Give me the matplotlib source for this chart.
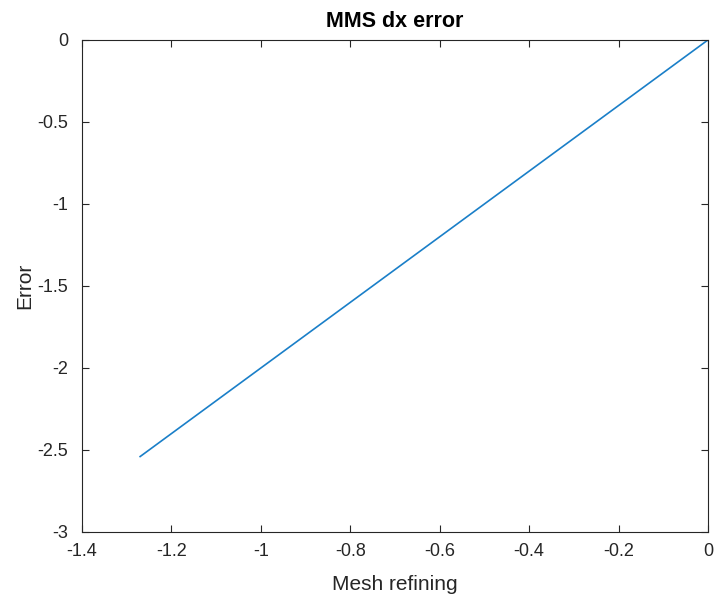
import matplotlib
matplotlib.use("Agg")
import matplotlib.pyplot as plt

# log of mesh refinement vs log of error
mesh_refining = [-1.27, 0.0]
error = [-2.54, 0.0]

x_ticks = [-1.4, -1.2, -1, -0.8, -0.6, -0.4, -0.2, 0]
x_tick_labels = ["-1.4", "-1.2", "-1", "-0.8", "-0.6", "-0.4", "-0.2", "0"]
y_ticks = [-3, -2.5, -2, -1.5, -1, -0.5, 0]
y_tick_labels = ["-3", "-2.5", "-2", "-1.5", "-1", "-0.5", "0"]

plt.rcParams["font.family"] = ["Liberation Sans", "DejaVu Sans"]
axis_color = "#262626"

fig = plt.figure(figsize=(7.15, 5.96), dpi=100)
ax = fig.add_axes([0.1147, 0.1074, 0.8755, 0.8256])

ax.plot(mesh_refining, error, color="#1a7fc8", linewidth=1.2)

ax.set_xlim(-1.4, 0)
ax.set_ylim(-3, 0)
ax.set_xticks(x_ticks)
ax.set_xticklabels(x_tick_labels)
ax.set_yticks(y_ticks)
ax.set_yticklabels(y_tick_labels)

ax.tick_params(direction="in", top=True, right=True, length=5, width=0.8,
               labelsize=13, colors=axis_color)
ax.tick_params(axis="x", pad=8)
ax.tick_params(axis="y", pad=10)
for spine in ax.spines.values():
    spine.set_color(axis_color)
    spine.set_linewidth(0.8)

ax.set_xlabel("Mesh refining", fontsize=15, color=axis_color, labelpad=11)
ax.set_ylabel("Error", fontsize=15, color=axis_color, labelpad=2)
ax.set_title("MMS dx error", fontsize=15.5, fontweight="bold", color="black", pad=9)

fig.savefig("out.png", dpi=100)
